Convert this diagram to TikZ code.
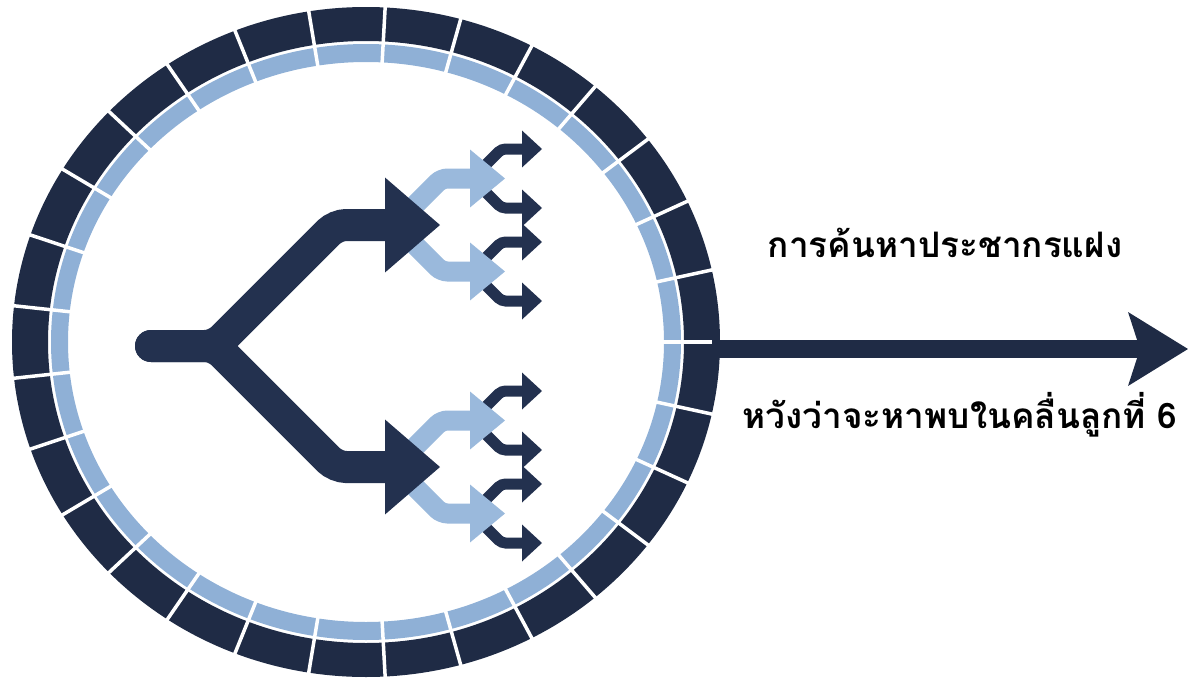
\documentclass[tikz,border=0pt]{standalone}
\usepackage{fontspec}
\newfontfamily\thaifont[Script=Thai]{Loma}
\usetikzlibrary{arrows.meta}
\definecolor{RingNavy}{RGB}{31,43,69}
\definecolor{BranchNavy}{RGB}{35,49,79}
\definecolor{RingSky}{RGB}{143,176,214}
\definecolor{BranchSky}{RGB}{154,185,220}
\tikzset{
  ringgap/.style={draw=white,line width=0.07cm},
  bigbranch/.style={draw=BranchNavy,line width=0.64cm,rounded corners=0.2cm,line cap=round,
    -{Triangle[length=1.1cm,width=1.9cm,line width=0pt]}},
  midbranch/.style={draw=BranchSky,line width=0.4cm,rounded corners=0.12cm,
    -{Triangle[length=0.7cm,width=1.16cm,line width=0pt]}},
  smallbranch/.style={draw=BranchNavy,line width=0.22cm,rounded corners=0.08cm,
    -{Triangle[length=0.4cm,width=0.74cm,line width=0pt]}},
  lead/.style={draw=RingNavy,line width=0.36cm,
    -{Stealth[length=1.2cm,width=1.48cm,inset=0.24cm,line width=0pt]}},
  caption/.style={font=\thaifont\bfseries\fontsize{20}{24}\selectfont,text=black,inner sep=0pt}
}

\begin{document}
\begin{tikzpicture}[x=0.02cm,y=-0.02cm]
  \useasboundingbox (0,0) rectangle (1188,683);
  % segmented ring
  \coordinate (hub) at (366,342);
  \fill[RingNavy,even odd rule] (hub) ellipse [x radius=354,y radius=335]
    (hub) ellipse [x radius=318,y radius=301];
  \fill[RingSky,even odd rule] (hub) ellipse [x radius=315,y radius=298]
    (hub) ellipse [x radius=298,y radius=280];
  \foreach \i [evaluate=\i as \a using \i*360/29] in {0,...,28}
    \draw[ringgap] ([shift={(\a:290 and 272)}]hub) -- ([shift={(\a:362 and 343)}]hub);

  % long arrow out of the ring
  \coordinate (rim) at (712,349);
  \coordinate (goal) at (1188,349);
  \draw[lead] (rim) -- (goal);

  % branching tree
  \coordinate (root) at (151,346);
  \coordinate (fork) at (215,346);
  \coordinate (upTip) at (440,225);
  \coordinate (dnTip) at (440,467);
  \foreach \tip in {upTip,dnTip}
    \foreach \s in {-1,1}
      \foreach \t in {-1,1}
        \draw[smallbranch] ([shift={(32,\s*46.5)}]\tip) -- ++(29.5,\t*29.5) -- ++(40.5,0);
  \foreach \tip in {upTip,dnTip}
    \foreach \s in {-1,1}
      \draw[midbranch] ([shift={(-45,0)}]\tip) -- ++(46.5,\s*46.5) -- ++(63.5,0);
  \draw[bigbranch] (root) -- (fork) -- ++(121,-121) -- (upTip);
  \draw[bigbranch] (root) -- (fork) -- ++(121,121) -- (dnTip);

  % labels
  \node[caption] (search) at (945,243) {การค้นหาประชากรแฝง};
  \node[caption] (hope) at (960,415) {หวังว่าจะหาพบในคลื่นลูกที่ 6};
\end{tikzpicture}
\end{document}
